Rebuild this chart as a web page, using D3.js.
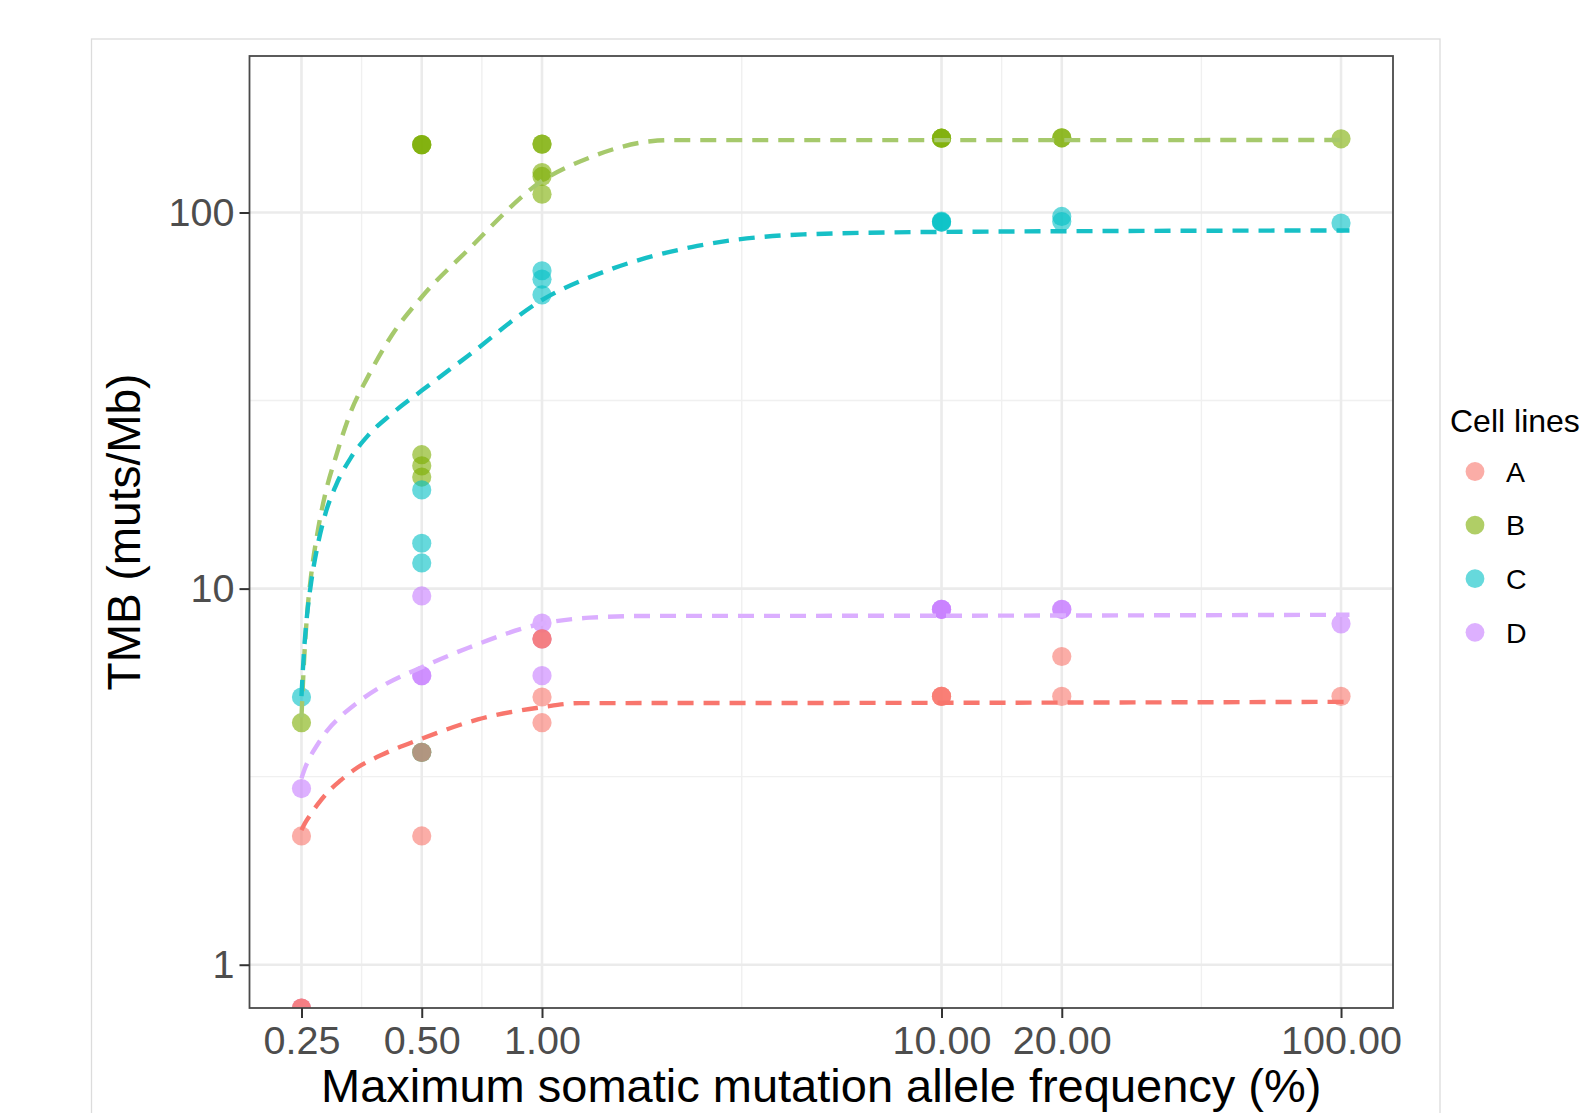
<!DOCTYPE html>
<html>
<head>
<meta charset="utf-8">
<script src="https://cdn.jsdelivr.net/npm/d3@7"></script>
<style>
  body { margin: 0; background: #fff; }
  svg { display: block; font-family: "Liberation Sans", Arial, Helvetica, sans-serif; }
</style>
</head>
<body>
<div id="chart"></div>
<script>
// --- data ---
const cellLines = ["A", "B", "C", "D"];
const pointColors = ["#F8766D", "#7CAE00", "#00BFC4", "#C77CFF"];
const lineColors = ["#F8766D", "#A6C96C", "#17C0C6", "#DBAEFF"];

const xBreaks = [0.25, 0.5, 1, 10, 20, 100];
const xLabels = ["0.25", "0.50", "1.00", "10.00", "20.00", "100.00"];
const yBreaks = [1, 10, 100];
const yLabels = ["1", "10", "100"];
const yLimits = [1, 200];

// [max allele frequency %, TMB]; 0 sits on the lower panel edge
const pointsA = [
  [0.25, 2.2], [0.25, 0], [0.25, 0],
  [0.5, 3.67], [0.5, 2.2],
  [1, 7.35], [1, 7.35], [1, 5.15], [1, 4.4],
  [10, 5.17], [10, 5.17], [10, 5.17],
  [20, 6.6], [20, 5.17],
  [100, 5.17],
];
const pointsB = [
  [0.25, 4.4],
  [0.5, 151.5], [0.5, 151.5], [0.5, 151.5], [0.5, 22.7], [0.5, 21.2], [0.5, 19.8], [0.5, 3.67],
  [1, 152], [1, 152], [1, 127.7], [1, 124.7], [1, 111.9],
  [10, 157.6], [10, 157.6], [10, 157.6],
  [20, 158], [20, 158],
  [100, 157],
];
const pointsC = [
  [0.25, 5.15],
  [0.5, 18.3], [0.5, 13.2], [0.5, 11.7], [0.5, 3.67],
  [1, 70], [1, 66.5], [1, 60.4],
  [10, 94.3], [10, 94.3], [10, 94.8],
  [20, 97.6], [20, 94.6],
  [100, 93.7],
];
const pointsD = [
  [0.25, 2.94], [0.25, 0],
  [0.5, 9.56], [0.5, 5.87], [0.5, 5.87],
  [1, 8.1], [1, 7.35], [1, 5.87],
  [10, 8.81], [10, 8.81], [10, 8.81],
  [20, 8.81], [20, 8.81],
  [100, 8.06],
];

// fitted curves (dashed)
const curveA = [
  [0.25, 2.28], [0.2551, 2.38], [0.2628, 2.5], [0.2738, 2.66], [0.2903, 2.87],
  [0.3132, 3.09], [0.346, 3.35], [0.3961, 3.61], [0.5, 3.99], [0.6911, 4.49],
  [1, 4.84], [1.242, 4.96], [10, 4.97], [105, 5.0],
];
const curveB = [
  [0.25, 4.55], [0.2537, 6.41], [0.2581, 8.48], [0.2644, 10.88], [0.2738, 13.96],
  [0.2869, 17.91], [0.3042, 22.27], [0.3321, 29.49], [0.3671, 36.67], [0.42, 47.03],
  [0.5, 59.62], [0.652, 79.43], [1, 121.3], [1.317, 140], [1.873, 154.7],
  [2.105, 155.7], [10, 155.7], [105, 155.9],
];
const curveC = [
  [0.25, 5.18], [0.2537, 6.82], [0.2581, 8.48], [0.2644, 10.41], [0.2738, 12.87],
  [0.2869, 15.81], [0.3042, 18.71], [0.3321, 22.27], [0.3671, 25.55], [0.42, 29.12],
  [0.5, 33.61], [0.652, 41.53], [1, 58.53], [1.481, 70.54], [2.367, 80.9],
  [4.511, 87.46], [10, 88.8], [105, 89.6],
];
const curveD = [
  [0.25, 3.13], [0.2551, 3.33], [0.2628, 3.57], [0.2738, 3.84], [0.2903, 4.2],
  [0.3132, 4.57], [0.346, 4.99], [0.3961, 5.49], [0.5, 6.18], [0.652, 6.95],
  [1, 8.07], [1.317, 8.37], [1.873, 8.46], [10, 8.47], [105, 8.52],
];

const pointSets = [pointsA, pointsB, pointsC, pointsD];
const curveSets = [curveA, curveB, curveC, curveD];
const drawOrder = [1, 2, 3, 0]; // A ends up on top, as in the figure

class TmbChart {
  constructor(el) {
    this.el = el;
    this.init();
  }

  init() {
    this.setup();
    this.scaffold();
    this.render();
  }

  setup() {
    this.width = 1596;
    this.height = 1113;
    this.panel = { left: 249.5, right: 1393, top: 56, bottom: 1008 };

    // ggplot style: 5% expansion of the log range on both sides
    const lx = d3.extent(xBreaks).map(Math.log10);
    const ex = (lx[1] - lx[0]) * 0.05;
    this.x = d3
      .scaleLog()
      .domain([10 ** (lx[0] - ex), 10 ** (lx[1] + ex)])
      .range([this.panel.left, this.panel.right]);

    const ly = yLimits.map(Math.log10);
    const ey = (ly[1] - ly[0]) * 0.05;
    this.y = d3
      .scaleLog()
      .domain([10 ** (ly[0] - ey), 10 ** (ly[1] + ey)])
      .range([this.panel.bottom, this.panel.top]);

    this.r = 9.6;
  }

  scaffold() {
    this.svg = d3
      .select(this.el)
      .append("svg")
      .attr("width", this.width)
      .attr("height", this.height);

    this.svg
      .append("rect")
      .attr("width", this.width)
      .attr("height", this.height)
      .attr("fill", "#fff");

    // outer figure frame
    this.svg
      .append("rect")
      .attr("x", 91.5)
      .attr("y", 39)
      .attr("width", 1348.5)
      .attr("height", 1100)
      .attr("fill", "none")
      .attr("stroke", "#dcdcdc")
      .attr("stroke-width", 1.3);

    this.svg
      .append("clipPath")
      .attr("id", "panel-clip")
      .append("rect")
      .attr("x", this.panel.left)
      .attr("y", this.panel.top)
      .attr("width", this.panel.right - this.panel.left)
      .attr("height", this.panel.bottom - this.panel.top);

    this.gGrid = this.svg.append("g").attr("class", "grid-g");
    this.gData = this.svg.append("g").attr("clip-path", "url(#panel-clip)");
    this.gAxes = this.svg.append("g").attr("class", "axes-g");
    this.gLegend = this.svg.append("g").attr("class", "legend-g");
  }

  render() {
    const { x, y, panel } = this;

    const xMinor = d3.pairs(xBreaks).map(([a, b]) => Math.sqrt(a * b));
    const yMinor = d3.pairs(yBreaks).map(([a, b]) => Math.sqrt(a * b));

    this.gGrid
      .append("g")
      .selectAll("line")
      .data(xMinor)
      .join("line")
      .attr("x1", x).attr("x2", x)
      .attr("y1", panel.top).attr("y2", panel.bottom)
      .attr("stroke", "#f0f0f0").attr("stroke-width", 1.4);
    this.gGrid
      .append("g")
      .selectAll("line")
      .data(yMinor)
      .join("line")
      .attr("x1", panel.left).attr("x2", panel.right)
      .attr("y1", y).attr("y2", y)
      .attr("stroke", "#f0f0f0").attr("stroke-width", 1.4);
    this.gGrid
      .append("g")
      .selectAll("line")
      .data(xBreaks)
      .join("line")
      .attr("x1", x).attr("x2", x)
      .attr("y1", panel.top).attr("y2", panel.bottom)
      .attr("stroke", "#ebebeb").attr("stroke-width", 2.6);
    this.gGrid
      .append("g")
      .selectAll("line")
      .data(yBreaks)
      .join("line")
      .attr("x1", panel.left).attr("x2", panel.right)
      .attr("y1", y).attr("y2", y)
      .attr("stroke", "#ebebeb").attr("stroke-width", 2.6);

    // points
    const yPos = (d) => (d[1] > 0 ? y(d[1]) : panel.bottom);
    drawOrder.forEach((i) => {
      this.gData
        .append("g")
        .selectAll("circle")
        .data(pointSets[i])
        .join("circle")
        .attr("cx", (d) => x(d[0]))
        .attr("cy", yPos)
        .attr("r", this.r)
        .attr("fill", pointColors[i])
        .attr("fill-opacity", 0.6);
    });

    // dashed fits
    const line = d3
      .line()
      .x((d) => x(d[0]))
      .y((d) => y(d[1]))
      .curve(d3.curveMonotoneX);
    curveSets.forEach((c, i) => {
      this.gData
        .append("path")
        .attr("d", line(c))
        .attr("fill", "none")
        .attr("stroke", lineColors[i])
        .attr("stroke-width", 4.4)
        .attr("stroke-dasharray", "16 10");
    });

    // panel border
    this.gAxes
      .append("rect")
      .attr("x", panel.left)
      .attr("y", panel.top)
      .attr("width", panel.right - panel.left)
      .attr("height", panel.bottom - panel.top)
      .attr("fill", "none")
      .attr("stroke", "#4a4a4a")
      .attr("stroke-width", 1.8);

    const gx = this.gAxes
      .append("g")
      .attr("transform", `translate(0,${panel.bottom})`)
      .call(
        d3.axisBottom(x)
          .tickValues(xBreaks)
          .tickFormat((d, i) => xLabels[i])
          .tickSize(10)
          .tickPadding(8)
      );
    const gy = this.gAxes
      .append("g")
      .attr("transform", `translate(${panel.left},0)`)
      .call(
        d3.axisLeft(y)
          .tickValues(yBreaks)
          .tickFormat((d, i) => yLabels[i])
          .tickSize(10)
          .tickPadding(5)
      );
    [gx, gy].forEach((g) => {
      g.select(".domain").remove();
      g.selectAll(".tick line").attr("stroke", "#333").attr("stroke-width", 2);
      g.selectAll(".tick text")
        .attr("fill", "#4d4d4d")
        .style("font-size", "39.5px")
        .style("font-family", '"Liberation Sans", Arial, sans-serif');
    });

    this.svg
      .append("text")
      .attr("x", (panel.left + panel.right) / 2)
      .attr("y", 1102)
      .attr("text-anchor", "middle")
      .style("font-size", "47px")
      .text("Maximum somatic mutation allele frequency (%)");

    this.svg
      .append("text")
      .attr("transform", `translate(140,${(panel.top + panel.bottom) / 2}) rotate(-90)`)
      .attr("text-anchor", "middle")
      .style("font-size", "46px")
      .text("TMB (muts/Mb)");

    // legend
    this.gLegend
      .append("text")
      .attr("x", 1450)
      .attr("y", 432)
      .style("font-size", "32px")
      .text("Cell lines");
    const items = this.gLegend
      .selectAll(".item")
      .data(cellLines)
      .join("g")
      .attr("class", "item")
      .attr("transform", (d, i) => `translate(1475,${471.5 + i * 53.6})`);
    items
      .append("circle")
      .attr("r", 9.4)
      .attr("fill", (d, i) => pointColors[i])
      .attr("fill-opacity", 0.6);
    items
      .append("text")
      .attr("x", 31)
      .attr("dy", "0.36em")
      .style("font-size", "28.5px")
      .text((d) => d);
  }
}

new TmbChart(document.getElementById("chart"));
</script>
</body>
</html>
